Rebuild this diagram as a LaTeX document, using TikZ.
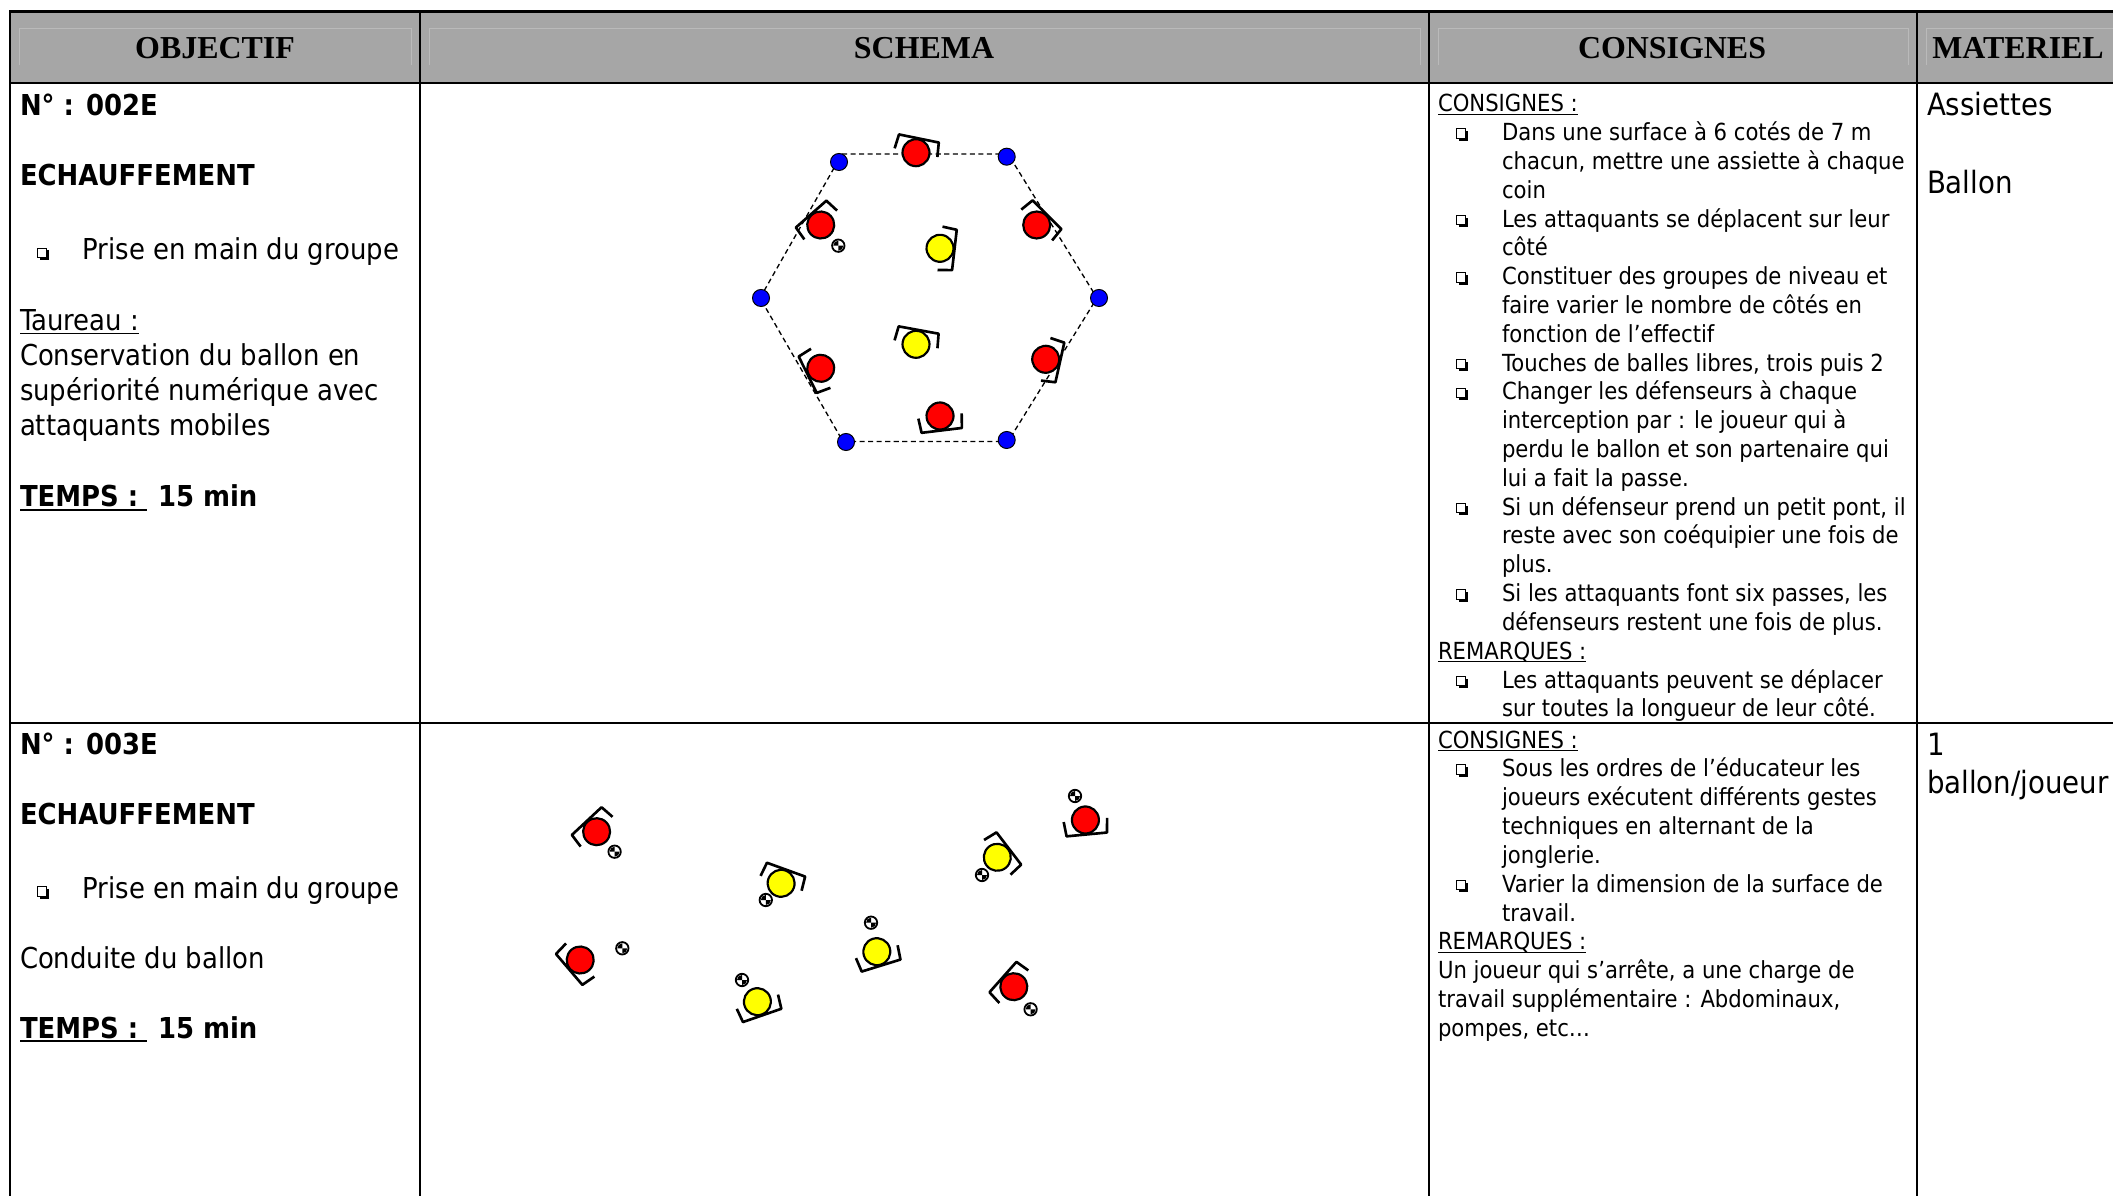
\documentclass[tikz,border=0pt]{standalone}
\usepackage{fontspec}
\newfontfamily\tah{DejaVu Sans}[FakeStretch=0.9]
\newfontfamily\hdf{Liberation Serif}
\definecolor{hdrgray}{RGB}{166,166,166}
\definecolor{hdrlight}{RGB}{186,186,186}
\definecolor{pred}{RGB}{255,0,0}
\definecolor{pyel}{RGB}{255,255,0}
\definecolor{pblue}{RGB}{0,0,255}
\tikzset{
  lt/.style={font=\tah\fontsize{12}{14}\selectfont, anchor=base west, inner sep=0pt, outer sep=0pt},
  ltb/.style={font=\tah\bfseries\fontsize{12}{14}\selectfont, anchor=base west, inner sep=0pt, outer sep=0pt},
  ct/.style={font=\tah\fontsize{9.8}{12}\selectfont, anchor=base west, inner sep=0pt, outer sep=0pt},
  mt/.style={font=\tah\fontsize{12.8}{15}\selectfont, anchor=base west, inner sep=0pt, outer sep=0pt},
  hd/.style={font=\hdf\bfseries\fontsize{13.3}{15}\selectfont, anchor=base, inner sep=0pt, outer sep=0pt},
  gridline/.style={line width=0.85pt, line cap=rect},
  ul/.style={line width=0.5pt},
  ulb/.style={line width=0.8pt},
  hexedge/.style={line width=0.55pt, dash pattern=on 2.1pt off 1.45pt},
  bluedot/.style={circle, fill=pblue, draw=black, line width=0.4pt, minimum size=7.1pt, inner sep=0pt},
  pics/player/.style={code={
    \filldraw[fill=#1, line width=0.9pt] (0,0) circle[radius=13.5];
    \draw[line width=1.1pt, line join=round] (-21.8,0) -- (-20.3,-14.5) -- (20.3,-14.5) -- (21.8,0);
  }},
  pics/ball/.style={code={
    \filldraw[fill=white, line width=0.75pt] (0,0) circle[radius=6.2];
    \fill (0,0) -- (5,0) arc[start angle=0, end angle=90, radius=5] -- cycle;
    \fill (0,0) -- (-5,0) arc[start angle=180, end angle=270, radius=5] -- cycle;
  }},
  pics/bul/.style={code={
    \fill (2.5,-9.5) rectangle (12,0);
    \filldraw[fill=white, line width=0.4pt] (0,-12) rectangle (9.5,-2.5);
  }}
}
\begin{document}
\begin{tikzpicture}[x=0.4167pt, y=-0.4167pt]
\useasboundingbox (0,0) rectangle (2113,1196);
\fill[white] (0,0) rectangle (2113,1196);
\clip (0,0) rectangle (2113,1196);

% header band
\fill[hdrgray] (10,11.5) rectangle (2130,83);
\draw[hdrlight, line width=0.35pt] (19,65) -- (19,28) -- (411,28) -- (411,65);
\draw[hdrlight, line width=0.35pt] (429,65) -- (429,28) -- (1420,28) -- (1420,65);
\draw[hdrlight, line width=0.35pt] (1438,65) -- (1438,28) -- (1908,28) -- (1908,65);
\draw[hdrlight, line width=0.35pt] (1926,65) -- (1926,28) -- (2130,28);

% grid
\draw[gridline] (2130,11.5) -- (10,11.5) -- (10,1210);
\draw[gridline] (10,83) -- (2130,83);
\draw[gridline] (10,723) -- (2130,723);
\draw[gridline] (420,11.5) -- (420,1210);
\draw[gridline] (1429,11.5) -- (1429,1210);
\draw[gridline] (1917,11.5) -- (1917,1210);

% headers
\node[hd] (h1) at (215,59) {OBJECTIF};
\node[hd] (h2) at (924,59) {SCHEMA};
\node[hd] (h3) at (1672,59) {CONSIGNES};
\node[hd] (h4) at (2018,59) {MATERIEL};

% ---------- row 1, objectif
\node[ltb] (n1) at (20,116) {N° : 002E};
\node[ltb] (e1) at (20,186) {ECHAUFFEMENT};
\pic (bu1) at (37,260) {bul};
\node[lt] (pr1) at (82.5,260) {Prise en main du groupe};
\node[lt] (ta1) at (20,331) {Taureau :};
\draw[ul] ([yshift=-1.1pt]ta1.base west) -- ([yshift=-1.1pt]ta1.base east);
\node[lt] (l1a) at (20,366) {Conservation du ballon en};
\node[lt] (l1b) at (20,401) {supériorité numérique avec};
\node[lt] (l1c) at (20,436) {attaquants mobiles};
\node[ltb] (tm1) at (20,507) {TEMPS :};
\node[ltb] (mn1) at (158,507) {15 min};
\draw[ulb] ([yshift=-1.2pt]tm1.base west) -- ++(127,0);

% ---------- row 2, objectif
\node[ltb] (n2) at (20,754.5) {N° : 003E};
\node[ltb] (e2) at (20,824.5) {ECHAUFFEMENT};
\pic (bu2) at (37,898.5) {bul};
\node[lt] (pr2) at (82.5,898.5) {Prise en main du groupe};
\node[lt] (cd2) at (20,968.5) {Conduite du ballon};
\node[ltb] (tm2) at (20,1038.5) {TEMPS :};
\node[ltb] (mn2) at (158,1038.5) {15 min};
\draw[ulb] ([yshift=-1.2pt]tm2.base west) -- ++(127,0);

% ---------- row 1, consignes
\node[ct] (c0) at (1438,112) {CONSIGNES :};
\draw[ul] ([yshift=-1pt]c0.base west) -- ([yshift=-1pt]c0.base east);
\pic (bc1) at (1456,140.8) {bul};
\node[ct] (c1) at (1502,140.8) {Dans une surface à 6 cotés de 7 m};
\node[ct] (c2) at (1502,169.6) {chacun, mettre une assiette à chaque};
\node[ct] (c3) at (1502,198.4) {coin};
\pic (bc4) at (1456,227.2) {bul};
\node[ct] (c4) at (1502,227.2) {Les attaquants se déplacent sur leur};
\node[ct] (c5) at (1502,256) {côté};
\pic (bc6) at (1456,284.8) {bul};
\node[ct] (c6) at (1502,284.8) {Constituer des groupes de niveau et};
\node[ct] (c7) at (1502,313.6) {faire varier le nombre de côtés en};
\node[ct] (c8) at (1502,342.4) {fonction de l’effectif};
\pic (bc9) at (1456,371.2) {bul};
\node[ct] (c9) at (1502,371.2) {Touches de balles libres, trois puis 2};
\pic (bc10) at (1456,400) {bul};
\node[ct] (c10) at (1502,400) {Changer les défenseurs à chaque};
\node[ct] (c11) at (1502,428.8) {interception par : le joueur qui à};
\node[ct] (c12) at (1502,457.6) {perdu le ballon et son partenaire qui};
\node[ct] (c13) at (1502,486.4) {lui a fait la passe.};
\pic (bc14) at (1456,515.2) {bul};
\node[ct] (c14) at (1502,515.2) {Si un défenseur prend un petit pont, il};
\node[ct] (c15) at (1502,544) {reste avec son coéquipier une fois de};
\node[ct] (c16) at (1502,572.8) {plus.};
\pic (bc17) at (1456,601.6) {bul};
\node[ct] (c17) at (1502,601.6) {Si les attaquants font six passes, les};
\node[ct] (c18) at (1502,630.4) {défenseurs restent une fois de plus.};
\node[ct] (c19) at (1438,659.2) {REMARQUES :};
\draw[ul] ([yshift=-1pt]c19.base west) -- ([yshift=-1pt]c19.base east);
\pic (bc20) at (1456,688) {bul};
\node[ct] (c20) at (1502,688) {Les attaquants peuvent se déplacer};
\node[ct] (c21) at (1502,716.8) {sur toutes la longueur de leur côté.};

% ---------- row 2, consignes
\node[ct] (d0) at (1438,748) {CONSIGNES :};
\draw[ul] ([yshift=-1pt]d0.base west) -- ([yshift=-1pt]d0.base east);
\pic (bd1) at (1456,776.85) {bul};
\node[ct] (d1) at (1502,776.85) {Sous les ordres de l’éducateur les};
\node[ct] (d2) at (1502,805.7) {joueurs exécutent différents gestes};
\node[ct] (d3) at (1502,834.55) {techniques en alternant de la};
\node[ct] (d4) at (1502,863.4) {jonglerie.};
\pic (bd5) at (1456,892.25) {bul};
\node[ct] (d5) at (1502,892.25) {Varier la dimension de la surface de};
\node[ct] (d6) at (1502,921.1) {travail.};
\node[ct] (d7) at (1438,949.95) {REMARQUES :};
\draw[ul] ([yshift=-1pt]d7.base west) -- ([yshift=-1pt]d7.base east);
\node[ct] (d8) at (1438,978.8) {Un joueur qui s’arrête, a une charge de};
\node[ct] (d9) at (1438,1007.65) {travail supplémentaire : Abdominaux,};
\node[ct] (d10) at (1438,1036.5) {pompes, etc…};

% ---------- materiel
\node[mt] (m1a) at (1927,116) {Assiettes};
\node[mt] (m1b) at (1927,194) {Ballon};
\node[mt] (m2a) at (1927,755) {1};
\node[mt] (m2b) at (1927,793) {ballon/joueur};

% ---------- schema row 1 : hexagon
\coordinate (hTL) at (842,154);
\coordinate (hTR) at (1008,154);
\coordinate (hR) at (1097,298);
\coordinate (hBR) at (1008,441.5);
\coordinate (hBL) at (843,441.5);
\coordinate (hL) at (760,298);
\draw[hexedge] (hTL) -- (hTR) -- (hR) -- (hBR) -- (hBL) -- (hL) -- cycle;
\node[bluedot] (v1) at (839,162) {};
\node[bluedot] (v2) at (1006.7,156.7) {};
\node[bluedot] (v3) at (1099,298) {};
\node[bluedot] (v4) at (1006.7,440) {};
\node[bluedot] (v5) at (846,442) {};
\node[bluedot] (v6) at (761,298) {};

\pic[rotate=-11.5] (r1) at (916,152.7) {player=pred};
\pic[rotate=41.3] (r2) at (820.7,225) {player=pred};
\pic[rotate=-45] (r3) at (1036.7,225) {player=pred};
\pic[rotate=116.4] (r4) at (820.7,368.3) {player=pred};
\pic[rotate=-102.6] (r5) at (1045.7,359.3) {player=pred};
\pic[rotate=186.9] (r6) at (940,416) {player=pred};
\pic[rotate=263.4] (y1) at (940,248.3) {player=pyel};
\pic[rotate=-10.4] (y2) at (916,344.3) {player=pyel};
\pic (ba1) at (838.3,245.7) {ball};

% ---------- schema row 2
\pic[rotate=43] (s1) at (596.6,831.7) {player=pred};
\pic (sb1) at (614.6,851.7) {ball};
\pic[rotate=-19.9] (s2) at (781.1,883.3) {player=pyel};
\pic (sb2) at (765.8,900) {ball};
\pic[rotate=-52.6] (s3) at (997.3,857.3) {player=pyel};
\pic (sb3) at (982,875) {ball};
\pic[rotate=185.4] (s4) at (1085.4,820) {player=pred};
\pic (sb4) at (1075,796) {ball};
\pic[rotate=130.5] (s5) at (580.2,960) {player=pred};
\pic (sb5) at (622.3,948.3) {ball};
\pic[rotate=197.2] (s6) at (876.8,951.7) {player=pyel};
\pic (sb6) at (871,922.7) {ball};
\pic[rotate=199.1] (s7) at (757.4,1001.7) {player=pyel};
\pic (sb7) at (742,980) {ball};
\pic[rotate=48.4] (s8) at (1013.8,986.7) {player=pred};
\pic (sb8) at (1030.6,1009.3) {ball};
\end{tikzpicture}
\end{document}
